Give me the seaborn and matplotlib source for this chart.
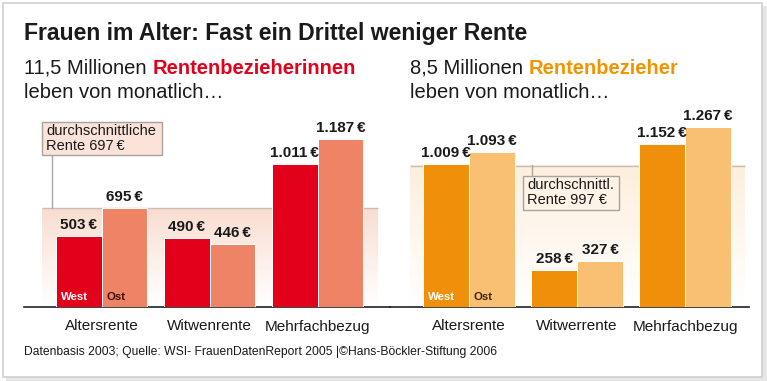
import matplotlib
matplotlib.use('Agg')
import matplotlib.pyplot as plt
from matplotlib.patches import Rectangle
from matplotlib.lines import Line2D
from matplotlib.colors import to_rgb
import numpy as np
import pandas as pd
import seaborn as sns

# ---------------- data ----------------
kategorien_frauen = ['Altersrente', 'Witwenrente', 'Mehrfachbezug']
frauen_west = [503, 490, 1011]
frauen_ost = [695, 446, 1187]
durchschnitt_frauen = 697

kategorien_maenner = ['Altersrente', 'Witwerrente', 'Mehrfachbezug']
maenner_west = [1009, 258, 1152]
maenner_ost = [1093, 327, 1267]
durchschnitt_maenner = 997

regionen = ['West', 'Ost']

# ---------------- style ----------------
W, H = 767, 381
sns.set_theme(style='white')
REG = ['Liberation Sans', 'DejaVu Sans']
NARROW = ['Liberation Sans Narrow', 'Liberation Sans', 'DejaVu Sans']
plt.rcParams['font.family'] = REG
DARK = '#1a1a1a'

fig = plt.figure(figsize=(W / 100, H / 100), dpi=100)
fig.patch.set_facecolor('white')


def fx(x):
    return x / W


def fy(y):
    return 1 - y / H


# frame with light shadow
fig.add_artist(Rectangle((fx(6), fy(381)), (767 - 6) / W, 5 / H, transform=fig.transFigure,
                         fc='#e6e6e6', ec='none', zorder=-3))
fig.add_artist(Rectangle((fx(762), fy(381)), 5 / W, (381 - 6) / H, transform=fig.transFigure,
                         fc='#e6e6e6', ec='none', zorder=-3))
fig.add_artist(Rectangle((fx(3), fy(377)), (762 - 3) / W, (377 - 3) / H, transform=fig.transFigure,
                         fc='white', ec='#d0d0d0', lw=1.2, zorder=-2))

BASE = 307
SCALE = 0.1418          # pixels per euro
YMAX = 1400
SP = 108                # pixels between group centers
BARW = 0.85


def make_ax(x0, x1, c0):
    ax = fig.add_axes([fx(x0), fy(BASE), (x1 - x0) / W, YMAX * SCALE / H])
    ax.set_facecolor('none')
    ax.set_xlim((x0 - c0) / SP, (x1 - c0) / SP)
    return ax


def fmt(v):
    return f"{v:,}".replace(',', '.') + '\u2009€'


def panel(ax, cats, west, ost, avg, c_west, c_ost, band_top, band_px, c0, ost_col):
    df = pd.DataFrame({'Kategorie': cats * 2,
                       'Region': ['West'] * len(cats) + ['Ost'] * len(cats),
                       'Rente': west + ost})
    xlim = ax.get_xlim()
    sns.barplot(data=df, x='Kategorie', y='Rente', hue='Region', hue_order=regionen,
                palette=[c_west, c_ost], width=BARW, saturation=1, errorbar=None,
                legend=False, ax=ax, edgecolor='white', linewidth=0.7, zorder=3)
    # gradient band below the average line
    t = np.linspace(0, 1, 200) ** 0.9
    top = np.array(to_rgb(band_top))
    img = top[None, :] + (1 - top[None, :]) * t[:, None]
    img = img[:, None, :]
    bx0 = (band_px[0] - c0) / SP
    bx1 = (band_px[1] - c0) / SP
    ax.imshow(img, extent=(bx0, bx1, 0, avg), origin='upper', aspect='auto', zorder=1)
    ax.hlines(avg, bx0, bx1, color='#c9bdb7', lw=1.0, zorder=2)
    ax.set_xlim(xlim)
    ax.set_ylim(0, YMAX)

    bw = BARW / len(regionen)
    for i, pair in enumerate(zip(west, ost)):
        for j, v in enumerate(pair):
            xc = i - BARW / 2 + bw * (j + 0.5)
            ax.annotate(fmt(v), (xc, v), xytext=(0, 4), textcoords='offset pixels',
                        ha='center', va='bottom', fontsize=11, fontweight='bold',
                        family=NARROW, color=DARK, annotation_clip=False, zorder=5)
    # West / Ost labels inside first group
    for j, (lab, col) in enumerate(zip(regionen, ['white', ost_col])):
        xl = -BARW / 2 + bw * j
        ax.annotate(lab, (xl, 0), xytext=(5, 10), textcoords='offset pixels',
                    ha='left', va='center', fontsize=8.2, fontweight='bold',
                    family=NARROW, color=col, zorder=5)

    ax.set_xlabel('')
    ax.set_ylabel('')
    ax.set_yticks([])
    ax.tick_params(axis='x', length=0, pad=9, labelsize=11, labelcolor=DARK)
    for s in ['top', 'left', 'right']:
        ax.spines[s].set_visible(False)
    ax.spines['bottom'].set_color('#222222')
    ax.spines['bottom'].set_linewidth(1.2)


ax1 = make_ax(24, 390, 101.5)
panel(ax1, kategorien_frauen, frauen_west, frauen_ost, durchschnitt_frauen,
      '#e2001a', '#ee8366', '#f9dccf', (42, 378), 101.5, '#3b1208')

ax2 = make_ax(390, 749, 469)
panel(ax2, kategorien_maenner, maenner_west, maenner_ost, durchschnitt_maenner,
      '#f0900a', '#f9bf73', '#fdeedc', (410, 745), 469, '#3b2608')

# ---------------- texts ----------------
fig.text(fx(24), fy(40), 'Frauen im Alter: Fast ein Drittel weniger Rente',
         fontsize=16.6, fontweight='bold', family=NARROW, color=DARK, va='baseline')

SUB = 14.5


def subtitle(x, pre, strong, col):
    t1 = fig.text(fx(x), fy(74), pre, fontsize=SUB, family=REG, color=DARK, va='baseline')
    an = plt.annotate(strong, xy=(1, 0), xycoords=t1, va='bottom', ha='left',
                      fontsize=SUB, fontweight='bold', family=REG, color=col,
                      annotation_clip=False)
    an.set_figure(fig)
    fig.text(fx(x), fy(98), 'leben von monatlich…', fontsize=SUB, family=REG,
             color=DARK, va='baseline')


subtitle(24, '11,5 Millionen ', 'Rentenbezieherinnen', '#e2001a')
subtitle(410, '8,5 Millionen ', 'Rentenbezieher', '#f29400')

# average boxes
fig.add_artist(Rectangle((fx(42), fy(155)), (162 - 42) / W, (155 - 122) / H,
                         transform=fig.transFigure, fc='#fbe3da', ec='#aaa29e', lw=1, zorder=4))
fig.text(fx(46), fy(124), 'durchschnittliche\nRente 697\u2009€', fontsize=10.5, family=REG,
         color=DARK, va='top', linespacing=1.05, zorder=5)
fig.add_artist(Line2D([fx(52), fx(52)], [fy(155), fy(208)], transform=fig.transFigure,
                      color='#a8a8a8', lw=1, zorder=4))

fig.add_artist(Rectangle((fx(523), fy(210)), (619 - 523) / W, (210 - 176) / H,
                         transform=fig.transFigure, fc='#fdf3e6', ec='#aaa29e', lw=1, zorder=4))
fig.text(fx(527), fy(178), 'durchschnittl.\nRente 997 €', fontsize=10.5, family=REG,
         color=DARK, va='top', linespacing=1.05, zorder=5)
fig.add_artist(Line2D([fx(532), fx(532)], [fy(165), fy(176)], transform=fig.transFigure,
                      color='#a8a8a8', lw=1, zorder=4))

fig.text(fx(24), fy(352), 'Datenbasis 2003; Quelle: WSI- FrauenDatenReport 2005 |©Hans-Böckler-Stiftung 2006',
         fontsize=8.75, family=NARROW, color=DARK, va='center')

fig.savefig('out.png', dpi=100)
